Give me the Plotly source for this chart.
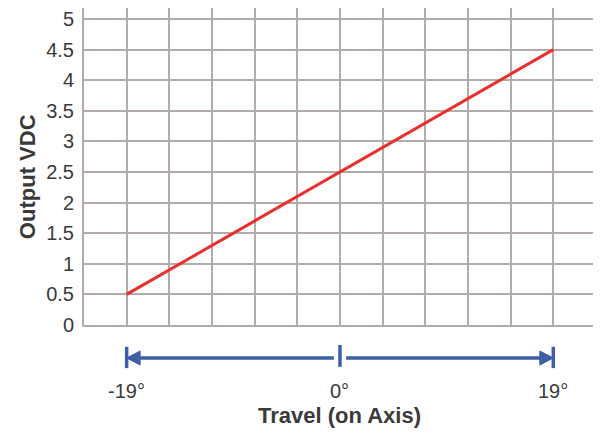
import plotly.graph_objects as go

# Data
travel_deg = [-19, 19]
output_vdc = [0.5, 4.5]
travel_marks = [-19, 0, 19]
travel_labels = ["-19°", "0°", "19°"]
y_ticks = [0, 0.5, 1, 1.5, 2, 2.5, 3, 3.5, 4, 4.5, 5]
y_labels = ["0", "0.5", "1", "1.5", "2", "2.5", "3", "3.5", "4", "4.5", "5"]

GRID = "#b3aba7"
RED = "#e8302c"
BLUE = "#3c5fa6"
TXT = "#3a3a3a"
FONT = "Liberation Sans, Arial, sans-serif"

fig = go.Figure()
fig.add_trace(go.Scatter(x=travel_deg, y=output_vdc, mode="lines",
                         line=dict(color=RED, width=3), showlegend=False,
                         hoverinfo="skip"))

fig.update_xaxes(range=[-22.8, 23.25], tick0=-19, dtick=3.8,
                 showticklabels=False, showgrid=True, gridcolor=GRID, gridwidth=2,
                 zeroline=False, showline=True, linecolor=GRID, linewidth=2)
fig.update_yaxes(range=[0, 5.18], tickvals=y_ticks, ticktext=y_labels,
                 showgrid=True, gridcolor=GRID, gridwidth=2, zeroline=False,
                 showline=True, linecolor=GRID, linewidth=2,
                 tickfont=dict(family=FONT, size=20, color=TXT),
                 ticklabelstandoff=4)

# Travel arrow (data x, paper y)
y_line = -0.104
lo, hi = travel_marks[0], travel_marks[-1]
mid = travel_marks[1]
tri_w = 1.2
gap = 0.55
shapes = []
line_style = dict(color=BLUE, width=3.5)
shapes.append(dict(type="line", xref="x", yref="paper", x0=lo + tri_w * 0.5, x1=mid - gap,
                   y0=y_line, y1=y_line, line=line_style))
shapes.append(dict(type="line", xref="x", yref="paper", x0=mid + gap, x1=hi - tri_w * 0.5,
                   y0=y_line, y1=y_line, line=line_style))
# end bars
for xv in (lo, hi):
    shapes.append(dict(type="line", xref="x", yref="paper", x0=xv, x1=xv,
                       y0=-0.069, y1=-0.136, line=dict(color=BLUE, width=3.5)))
# center tick
shapes.append(dict(type="line", xref="x", yref="paper", x0=mid, x1=mid,
                   y0=-0.063, y1=-0.132, line=dict(color=BLUE, width=3.5)))
# arrow triangles
shapes.append(dict(type="path", xref="x", yref="paper",
                   path=f"M {lo},{y_line} L {lo + tri_w},{-0.082} L {lo + tri_w},{-0.126} Z",
                   fillcolor=BLUE, line=dict(color=BLUE, width=1)))
shapes.append(dict(type="path", xref="x", yref="paper",
                   path=f"M {hi},{y_line} L {hi - tri_w},{-0.082} L {hi - tri_w},{-0.126} Z",
                   fillcolor=BLUE, line=dict(color=BLUE, width=1)))

annotations = []
for xv, lab in zip(travel_marks, travel_labels):
    annotations.append(dict(x=xv, y=-0.207, xref="x", yref="paper", text=lab,
                            showarrow=False, xanchor="center", yanchor="middle",
                            font=dict(family=FONT, size=20, color=TXT)))
annotations.append(dict(x=mid, y=-0.284, xref="x", yref="paper",
                        text="<b>Travel (on Axis)</b>", showarrow=False,
                        xanchor="center", yanchor="middle",
                        font=dict(family=FONT, size=22, color=TXT)))
annotations.append(dict(x=-0.108, y=0.467, xref="paper", yref="paper",
                        text="<b>Output VDC</b>", showarrow=False, textangle=-90,
                        xanchor="center", yanchor="middle",
                        font=dict(family=FONT, size=22, color=TXT)))

# The page body has an 8px margin, so the figure is 8px smaller and margins offset.
fig.update_layout(width=593, height=424, margin=dict(l=76, r=0, t=0, b=107),
                  plot_bgcolor="white", paper_bgcolor="white",
                  shapes=shapes, annotations=annotations)

fig.write_html("out.html")
